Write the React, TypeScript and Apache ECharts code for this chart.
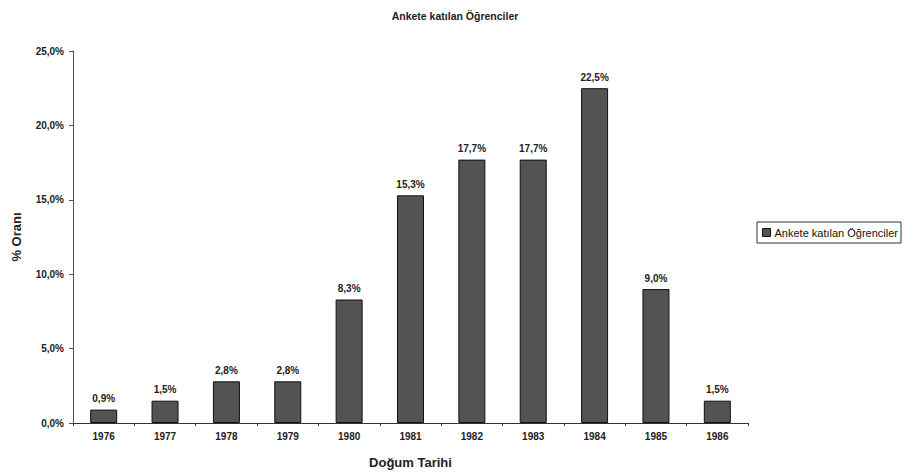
import React, { useEffect, useRef } from "react";
import * as echarts from "echarts";

const categories = ["1976", "1977", "1978", "1979", "1980", "1981", "1982", "1983", "1984", "1985", "1986"];
const values = [0.9, 1.5, 2.8, 2.8, 8.3, 15.3, 17.7, 17.7, 22.5, 9.0, 1.5];
const seriesName = "Ankete katılan Öğrenciler";
const titleText = "Ankete katılan Öğrenciler";

const fmt = (v: number) => v.toFixed(1).replace(".", ",") + "%";

export default function App() {
  const ref = useRef<HTMLDivElement>(null);
  useEffect(() => {
    if (!ref.current) return;
    document.body.style.margin = "0";
    document.body.style.overflow = "hidden";
    const chart = echarts.init(ref.current, null, { renderer: "svg" });
    const font = "Liberation Sans, Arial, sans-serif";
    chart.setOption({
      animation: false,
      backgroundColor: "#ffffff",
      title: {
        text: titleText,
        left: 450,
        top: 5,
        textAlign: "center",
        textStyle: { fontFamily: font, fontSize: 10.5, fontWeight: "bold", color: "#222" },
      },
      legend: {
        orient: "vertical",
        left: 757,
        top: 222,
        padding: [5, 3, 5, 5],
        borderColor: "#333",
        borderWidth: 1,
        itemWidth: 8,
        itemHeight: 8,
        itemGap: 4,
        icon: "rect",
        textStyle: { fontFamily: font, fontSize: 11, color: "#111", padding: [0, 0, 0, -1] },
        data: [{ name: seriesName, itemStyle: { borderColor: "#111", borderWidth: 1 } }],
      },
      grid: { left: 73, right: 157, top: 51, bottom: 48, containLabel: false },
      xAxis: {
        type: "category",
        data: categories,
        name: "Doğum Tarihi",
        nameLocation: "middle",
        nameGap: 33,
        nameTextStyle: { fontFamily: font, fontSize: 13, fontWeight: "bold", color: "#222" },
        axisLine: { lineStyle: { color: "#333", width: 1 } },
        axisTick: { show: true, alignWithLabel: false, length: 3, lineStyle: { color: "#333" } },
        axisLabel: { fontFamily: font, fontSize: 10, fontWeight: "bold", color: "#222", margin: 8 },
      },
      yAxis: {
        type: "value",
        min: 0,
        max: 25,
        interval: 5,
        name: "% Oranı",
        nameLocation: "middle",
        nameGap: 50,
        nameRotate: 90,
        nameTextStyle: { fontFamily: font, fontSize: 13, fontWeight: "bold", color: "#222" },
        axisLine: { show: true, lineStyle: { color: "#555", width: 1 } },
        axisTick: { show: true, length: 4, lineStyle: { color: "#555" } },
        splitLine: { show: false },
        axisLabel: {
          fontFamily: font,
          fontSize: 10,
          fontWeight: "bold",
          color: "#222",
          margin: 9,
          formatter: (v: number) => fmt(v),
        },
      },
      series: [
        {
          name: seriesName,
          type: "bar",
          data: values,
          barWidth: 27,
          itemStyle: { color: "#535353", borderColor: "#111", borderWidth: 1 },
          label: {
            show: true,
            position: "top",
            distance: 6,
            fontFamily: font,
            fontSize: 10,
            fontWeight: "bold",
            color: "#222",
            formatter: (p: any) => fmt(p.value),
          },
        },
      ],
    });
    return () => chart.dispose();
  }, []);
  return <div ref={ref} style={{ width: 905, height: 474, position: "absolute", left: 0, top: 0 }} />;
}
